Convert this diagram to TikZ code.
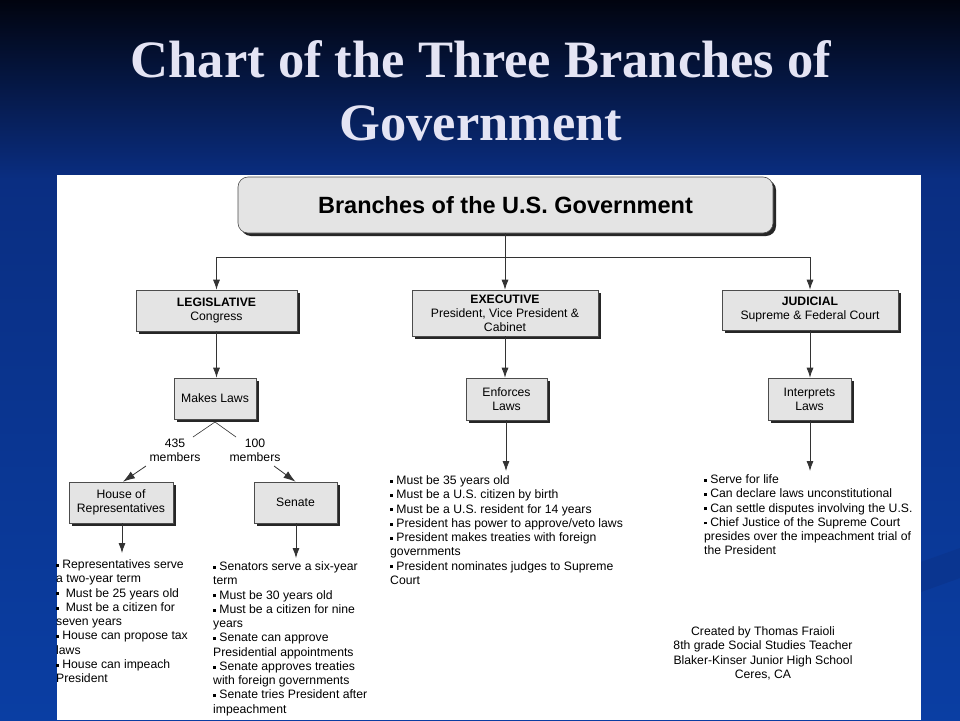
\documentclass[tikz,border=0pt]{standalone}
\usepackage{fontspec}
\setmainfont{Liberation Sans}
\newfontfamily\titlefont{Liberation Serif}
\usetikzlibrary{arrows.meta,shadows}
\definecolor{bgA}{HTML}{01040F}
\definecolor{bgB}{HTML}{0A2E82}
\definecolor{bgC}{HTML}{0A3EA3}
\definecolor{band}{HTML}{0A3590}
\definecolor{boxfill}{HTML}{E4E4E4}
\definecolor{titletext}{HTML}{E4E4F4}
\newcommand\bul{\raisebox{1.8pt}{\rule{2.8pt}{2.8pt}}\ }
\tikzset{
  box/.style={draw=black!70, fill=boxfill, line width=0.6pt, inner sep=0pt, align=center,
    font=\fontsize{12.2}{14}\selectfont,
    drop shadow={shadow xshift=3pt, shadow yshift=-3pt, fill=black!85, opacity=1}},
  conn/.style={draw=black!80, line width=0.8pt},
  arr/.style={conn, -{Latex[length=10pt,width=7pt]}},
  bigarr/.style={conn, -{Latex[length=12pt,width=8pt]}},
  lst/.style={anchor=north west, inner sep=0pt, align=left, font=\fontsize{12.2}{14.25}\selectfont},
  lbl/.style={inner sep=0pt, align=center, font=\fontsize{12.2}{14}\selectfont},
  ttl/.style={anchor=base, inner sep=0pt, font=\titlefont\bfseries\fontsize{52.5}{60}\selectfont},
}
\begin{document}
\begin{tikzpicture}[x=1pt,y=-1pt]
\useasboundingbox (0,0) rectangle (960,720);
% background
\shade[top color=bgA, bottom color=bgB] (0,0) rectangle (960,180);
\shade[top color=bgB, bottom color=bgC] (0,180) rectangle (960,720);
\fill[band] (921,562) -- (960,548) -- (960,578) -- (921,592) -- cycle;
% title
\node[ttl, text=titletext] (t1) at (481,77) {Chart of the Three Branches of};
\node[ttl, text=titletext] (t2) at (481,140) {Government};
% white panel
\fill[white] (57,175) rectangle (921,720);
% boxes
\node[box, rounded corners=10pt, minimum width=535pt, minimum height=56pt,
  font=\bfseries\fontsize{23.5}{26}\selectfont] (top) at (505.5,205) {Branches of the U.S. Government};
\node[box, minimum width=161pt, minimum height=41pt] (leg) at (216.5,310.5) {\textbf{LEGISLATIVE}\\Congress};
\node[box, minimum width=186pt, minimum height=46pt] (exe) at (505,313) {\textbf{EXECUTIVE}\\President, Vice President \&\\Cabinet};
\node[box, minimum width=176pt, minimum height=40pt] (jud) at (810,310) {\textbf{JUDICIAL}\\Supreme \& Federal Court};
\node[box, minimum width=82pt, minimum height=41pt] (makes) at (215,398.5) {Makes Laws};
\node[box, minimum width=81pt, minimum height=42pt] (enf) at (506.5,399) {Enforces\\Laws};
\node[box, minimum width=83pt, minimum height=42pt] (int) at (809.5,399) {Interprets\\Laws};
\node[box, minimum width=104pt, minimum height=41pt] (house) at (121,502.5) {House of\\Representatives};
\node[box, minimum width=83pt, minimum height=41pt] (senate) at (295.5,502.5) {Senate};
% bus connectors
\coordinate (bus) at (0,257);
\draw[conn] (top.south) -- (top.south |- bus);
\draw[conn] (bus -| leg.north) -- (bus -| jud.north);
\draw[arr] (bus -| leg.north) -- (leg.north);
\draw[arr] (bus -| exe.north) -- (exe.north);
\draw[arr] (bus -| jud.north) -- (jud.north);
\draw[arr] (leg.south) -- (leg.south |- makes.north);
\draw[arr] (exe.south) -- (exe.south |- enf.north);
\draw[arr] (jud.south) -- (jud.south |- int.north);
% fork under Makes Laws
\coordinate (apex) at (215,422);
\coordinate (fl) at (193,437);
\coordinate (fr) at (236,437);
\draw[conn, line width=0.6pt] (fl) -- (apex) -- (fr);
\node[lbl] (l435) at (175,450) {435\\members};
\node[lbl] (l100) at (255,450) {100\\members};
\coordinate (a435) at (146,466);
\coordinate (a100) at (274,466);
\draw[bigarr] (a435) -- ([xshift=2pt]house.north);
\draw[bigarr] (a100) -- (senate.north);
% arrows to lists
\coordinate (hend) at (122,553);
\coordinate (send) at (296,558);
\coordinate (eend) at (506,471);
\coordinate (jend) at (810,471);
\draw[arr] (house.south -| hend) -- (hend);
\draw[arr] (senate.south -| send) -- (send);
\draw[arr] (enf.south -| eend) -- (eend);
\draw[arr] (int.south -| jend) -- (jend);
% lists
\node[lst] (hlist) at (56,559.5) {\bul Representatives serve\\a two-year term\\\bul\ Must be 25 years old\\\bul\ Must be a citizen for\\seven years\\\bul House can propose tax\\laws\\\bul House can impeach\\President};
\node[lst] (slist) at (213,561.5) {\bul Senators serve a six-year\\term\\\bul Must be 30 years old\\\bul Must be a citizen for nine\\years\\\bul Senate can approve\\Presidential appointments\\\bul Senate approves treaties\\with foreign governments\\\bul Senate tries President after\\impeachment};
\node[lst] (elist) at (390,475.5) {\bul Must be 35 years old\\\bul Must be a U.S. citizen by birth\\\bul Must be a U.S. resident for 14 years\\\bul President has power to approve/veto laws\\\bul President makes treaties with foreign\\governments\\\bul President nominates judges to Supreme\\Court};
\node[lst] (jlist) at (704,474.5) {\bul Serve for life\\\bul Can declare laws unconstitutional\\\bul Can settle disputes involving the U.S.\\\bul Chief Justice of the Supreme Court\\presides over the impeachment trial of\\the President};
\node[lst, anchor=north, align=center] (credit) at (763,626.5) {Created by Thomas Fraioli\\8th grade Social Studies Teacher\\Blaker-Kinser Junior High School\\Ceres, CA};
\end{tikzpicture}
\end{document}
